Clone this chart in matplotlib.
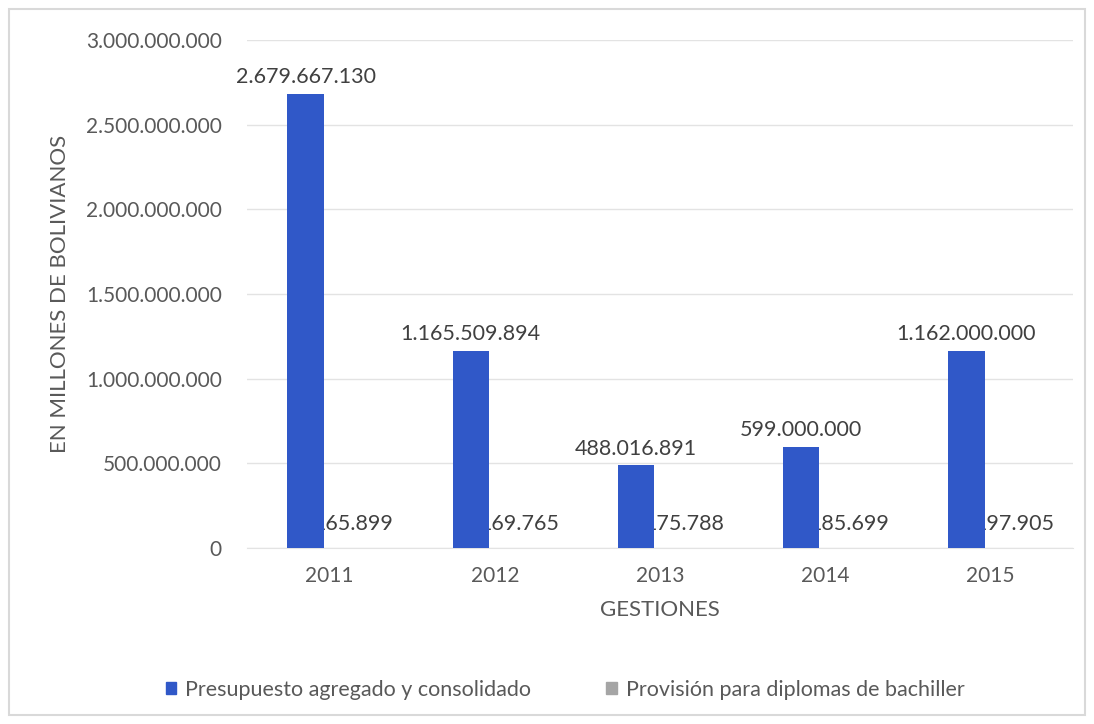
import matplotlib
matplotlib.use("Agg")
import matplotlib.pyplot as plt
from matplotlib.patches import Rectangle, Patch
import numpy as np

years = ["2011", "2012", "2013", "2014", "2015"]
presupuesto = [2679667130, 1165509894, 488016891, 599000000, 1162000000]
provision = [165899, 169765, 175788, 185699, 197905]
yticks = [0, 500000000, 1000000000, 1500000000, 2000000000, 2500000000, 3000000000]
series_names = ["Presupuesto agregado y consolidado", "Provisión para diplomas de bachiller"]

def fmt(v):
    return f"{v:,}".replace(",", ".")

plt.rcParams['font.family'] = ['Lato', 'DejaVu Sans']

fig = plt.figure(figsize=(10.94, 7.24), dpi=100)
W, H = 1094, 724
left, right, top, bottom = 247, 1073, 40, 548
ax = fig.add_axes([left / W, 1 - bottom / H, (right - left) / W, (bottom - top) / H])

fig.patches.append(Rectangle((9 / W, 9 / H), (1085 - 9) / W, (715 - 9) / H,
                             transform=fig.transFigure, fill=False,
                             edgecolor="#D9D9D9", linewidth=1.5, zorder=0))

x = np.arange(len(years))
w = 0.22
off = 0.145
blue = "#3058C8"
gray = "#A5A5A5"

ax.bar(x - off, presupuesto, w, color=blue, zorder=3)
ax.bar(x + off, provision, w, color=gray, zorder=3)

for xi, v in zip(x, presupuesto):
    ax.text(xi - off, v + 40000000, fmt(v), ha="center", va="bottom",
            fontsize=15.5, color="#404040", zorder=4)
for xi, v in zip(x, provision):
    ax.text(xi + off, 85000000, fmt(v), ha="center", va="bottom",
            fontsize=15.5, color="#404040", zorder=2)

ax.set_xlim(-0.5, len(years) - 0.5)
ax.set_ylim(0, 3000000000)
ax.set_yticks(yticks)
ax.set_yticklabels([fmt(v) for v in yticks])
ax.set_xticks(x)
ax.set_xticklabels(years)
ax.tick_params(axis="both", length=0, labelsize=15, labelcolor="#595959")
ax.tick_params(axis="y", pad=18)
ax.tick_params(axis="x", pad=13)
ax.grid(axis="y", color="#E3E3E3", linewidth=1, zorder=0)
ax.set_axisbelow(True)
for s in ["top", "right", "left"]:
    ax.spines[s].set_visible(False)
ax.spines["bottom"].set_color("#E3E3E3")

ax.set_xlabel("GESTIONES", fontsize=16, color="#595959", labelpad=10)
ax.set_ylabel("EN MILLONES DE BOLIVIANOS", fontsize=16, color="#595959")
ax.yaxis.set_label_coords((70 - left) / (right - left), 0.5)

handles = [Patch(color=blue), Patch(color=gray)]
fig.legend(handles, series_names, loc="center", bbox_to_anchor=(565 / W, 1 - 690 / H),
           ncol=2, frameon=False, fontsize=15.5, handlelength=0.5, handleheight=0.5,
           handletextpad=0.4, columnspacing=3.5, labelcolor="#595959")

fig.savefig("out.png", dpi=100)
